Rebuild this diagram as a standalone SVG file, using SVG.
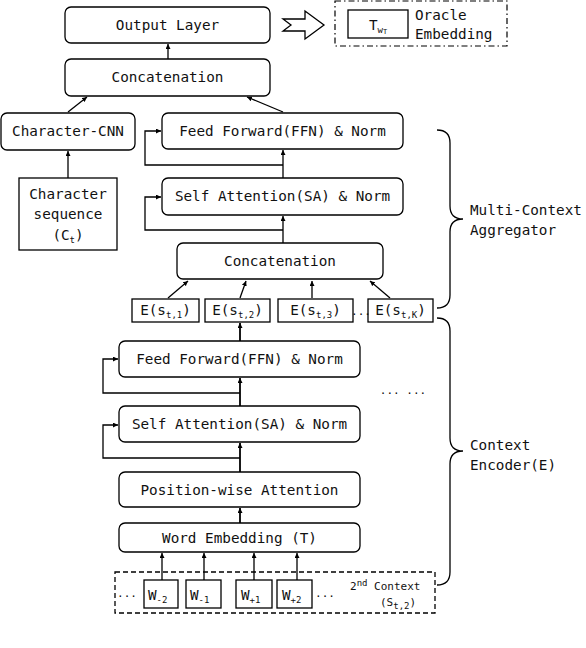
<svg xmlns="http://www.w3.org/2000/svg" width="586" height="648" viewBox="0 0 586 648">
<style>
.box{fill:#fff;stroke:#000;stroke-width:1.3}
.sq{fill:#fff;stroke:#000;stroke-width:1.3}
.t{font-family:"DejaVu Sans Mono","Liberation Mono",monospace;font-size:14.3px;fill:#111}
.c{text-anchor:middle}
.sm{font-size:11px}
.sub{font-size:9px}
.con{fill:none;stroke:#000;stroke-width:1.3}
.thick{stroke-width:1.8}
</style>
<defs>
<marker id="ah" viewBox="0 0 6 6" refX="6" refY="3" markerWidth="5" markerHeight="5" markerUnits="userSpaceOnUse" orient="auto"><path d="M0,0 L6,3 L0,6 z" fill="#000"/></marker>
</defs>
<rect width="586" height="648" fill="#fff"/>

<g id="output-layer"><rect class="box" x="65" y="7" width="205" height="36" rx="6"/><text class="t c" x="167.5" y="30">Output Layer</text></g>
<g id="concat-top"><rect class="box" x="65" y="59" width="205" height="37" rx="6"/><text class="t c" x="167.5" y="82">Concatenation</text></g>
<g id="char-cnn"><rect class="box" x="1" y="113" width="134" height="37" rx="6"/><text class="t c" x="68" y="136">Character-CNN</text></g>
<g id="char-seq"><rect class="sq" x="19" y="178" width="98" height="72"/><text class="t c" x="68" y="199">Character</text><text class="t c" x="68" y="219">sequence</text><text class="t c" x="68" y="240">(C<tspan class="sub" dy="3">t</tspan><tspan dy="-3">)</tspan></text></g>
<g id="ffn-top"><rect class="box" x="162" y="113" width="241" height="36" rx="6"/><text class="t c" x="282.5" y="136">Feed Forward(FFN) &amp; Norm</text></g>
<g id="sa-top"><rect class="box" x="162" y="178" width="241" height="37" rx="6"/><text class="t c" x="282.5" y="201">Self Attention(SA) &amp; Norm</text></g>
<g id="concat-mid"><rect class="box" x="177" y="243" width="206" height="36" rx="6"/><text class="t c" x="280" y="266">Concatenation</text></g>

<g id="e1"><rect class="sq" x="132" y="299" width="67" height="23"/><text class="t c" x="165.5" y="315">E(s<tspan class="sub" dy="3">t,1</tspan><tspan dy="-3">)</tspan></text></g>
<g id="e2"><rect class="sq" x="205" y="299" width="65" height="23"/><text class="t c" x="237.5" y="315">E(s<tspan class="sub" dy="3">t,2</tspan><tspan dy="-3">)</tspan></text></g>
<g id="e3"><rect class="sq" x="278" y="299" width="75" height="23"/><text class="t c" x="315.5" y="315">E(s<tspan class="sub" dy="3">t,3</tspan><tspan dy="-3">)</tspan></text></g>
<g id="ek"><rect class="sq" x="368" y="299" width="65" height="23"/><text class="t c" x="400.5" y="315">E(s<tspan class="sub" dy="3">t,K</tspan><tspan dy="-3">)</tspan></text></g>
<text class="t sm c" x="361" y="315">...</text>

<g id="ffn-low"><rect class="box" x="119" y="341" width="241" height="36" rx="6"/><text class="t c" x="239.5" y="364">Feed Forward(FFN) &amp; Norm</text></g>
<g id="sa-low"><rect class="box" x="119" y="406" width="241" height="36" rx="6"/><text class="t c" x="239.5" y="429">Self Attention(SA) &amp; Norm</text></g>
<g id="pwa"><rect class="box" x="119" y="472" width="241" height="35" rx="6"/><text class="t c" x="239.5" y="495">Position-wise Attention</text></g>
<g id="word-emb"><rect class="box" x="119" y="523" width="241" height="29" rx="6"/><text class="t c" x="239.5" y="543">Word Embedding (T)</text></g>
<text class="t sm c" x="403" y="394">... ...</text>

<g id="context-2"><rect x="115" y="572" width="320" height="41" fill="none" stroke="#000" stroke-width="1.3" stroke-dasharray="5,3"/>
<text class="t sm c" x="127" y="597">...</text>
<rect class="sq" x="144" y="580" width="34" height="28"/><text class="t" x="148" y="600">W<tspan class="sub" dy="3">-2</tspan></text>
<rect class="sq" x="186" y="580" width="35" height="28"/><text class="t" x="190" y="600">W<tspan class="sub" dy="3">-1</tspan></text>
<rect class="sq" x="236" y="580" width="36" height="28"/><text class="t" x="241" y="600">W<tspan class="sub" dy="3">+1</tspan></text>
<rect class="sq" x="277" y="580" width="35" height="28"/><text class="t" x="282" y="600">W<tspan class="sub" dy="3">+2</tspan></text>
<text class="t sm c" x="325" y="597">...</text>
<text class="t sm" x="350" y="590">2<tspan class="sub" dy="-4">nd</tspan><tspan dy="4"> Context</tspan></text>
<text class="t sm" x="380" y="606">(S<tspan class="sub" dy="3">t,2</tspan><tspan dy="-3">)</tspan></text>
</g>

<g id="oracle"><rect x="335" y="1" width="172" height="45" fill="none" stroke="#000" stroke-width="1.2" stroke-dasharray="6,3,1.5,3"/>
<rect class="sq" x="348" y="10" width="60" height="28"/>
<text class="t c" x="378" y="30">T<tspan class="sub" dy="3">w</tspan><tspan style="font-size:7px" dy="1">T</tspan></text>
<text class="t" x="415" y="20">Oracle</text><text class="t" x="415" y="39">Embedding</text></g>

<g id="connectors">
<polygon points="283,19 305,19 305,11 324,25 305,39 305,31 283,31 291,25" fill="#fff" stroke="#000" stroke-width="1.3"/>
<path class="con" d="M168,59 L168,44" marker-end="url(#ah)"/>
<path class="con" d="M68,112 L87,97" marker-end="url(#ah)"/>
<path class="con" d="M283,112 L247,97" marker-end="url(#ah)"/>
<path class="con" d="M68,178 L68,151" marker-end="url(#ah)"/>
<path class="con" d="M283,178 L283,150" marker-end="url(#ah)"/>
<path class="con" d="M283,165 L145,165 L145,131 L161,131" marker-end="url(#ah)"/>
<path class="con" d="M283,243 L283,216" marker-end="url(#ah)"/>
<path class="con" d="M283,230 L145,230 L145,197 L161,197" marker-end="url(#ah)"/>
<path class="con" d="M168,298 L188,281" marker-end="url(#ah)"/>
<path class="con" d="M240,298 L246,281" marker-end="url(#ah)"/>
<path class="con" d="M312,298 L312,281" marker-end="url(#ah)"/>
<path class="con" d="M390,298 L370,281" marker-end="url(#ah)"/>
<path class="con thick" d="M240,341 L240,323" marker-end="url(#ah)"/>
<path class="con thick" d="M240,406 L240,378" marker-end="url(#ah)"/>
<path class="con" d="M240,393 L103,393 L103,359 L118,359" marker-end="url(#ah)"/>
<path class="con thick" d="M240,472 L240,443" marker-end="url(#ah)"/>
<path class="con" d="M240,458 L103,458 L103,425 L118,425" marker-end="url(#ah)"/>
<path class="con thick" d="M240,523 L240,508" marker-end="url(#ah)"/>
<path class="con" d="M162,580 L162,553" marker-end="url(#ah)"/>
<path class="con" d="M204,580 L204,553" marker-end="url(#ah)"/>
<path class="con" d="M254,580 L254,553" marker-end="url(#ah)"/>
<path class="con" d="M297,580 L297,553" marker-end="url(#ah)"/>
</g>

<g id="brace-aggregator"><path class="con" d="M437,130 Q450,130 450,143 L450,206 Q450,219 463,219 Q450,219 450,232 L450,295 Q450,308 437,308"/>
<text class="t" x="470" y="215">Multi-Context</text><text class="t" x="470" y="235">Aggregator</text></g>
<g id="brace-encoder"><path class="con" d="M437,318 Q450,318 450,331 L450,438 Q450,451 463,451 Q450,451 450,464 L450,572 Q450,585 437,585"/>
<text class="t" x="470" y="450">Context</text><text class="t" x="470" y="470">Encoder(E)</text></g>
</svg>
